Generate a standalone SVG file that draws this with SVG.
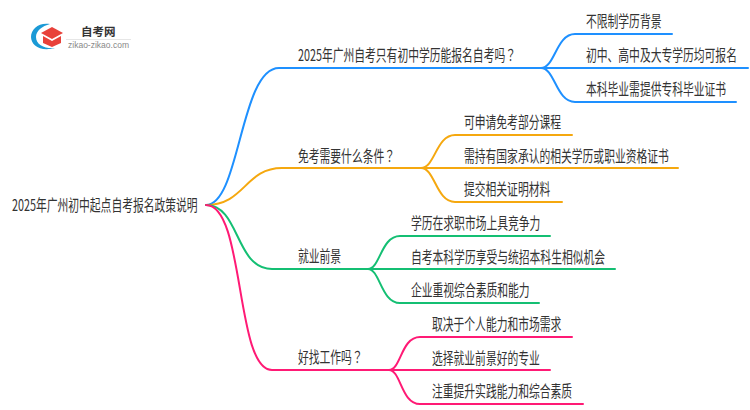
<svg xmlns="http://www.w3.org/2000/svg" width="750" height="410" viewBox="0 0 750 410">
<style>
text{font-family:"Noto Sans CJK SC","Liberation Sans",sans-serif;font-size:16px;fill:#333;}
.q{font-family:"Noto Sans CJK TC",sans-serif;}
.c{fill:none;stroke-width:2;stroke-linecap:round;}
.b{stroke:#1e90ff}.o{stroke:#f5a80f}.g{stroke:#14bf73}.p{stroke:#ff1a75}
</style>
<rect width="750" height="410" fill="#fff"/>
<g id="logo">
<path d="M50 24C39 22 31 29 31 37C31 45 40 52 55 48C45 49 36 45 36 37C36 31 42 26 50 24Z" fill="#1b9ad6"/>
<path d="M41 33L52 27L63 33L52 39Z" fill="#e8413a"/>
<path d="M43 36L52 41L61 36V43L52 47L43 43Z" fill="#e8413a"/>
<text x="81" y="36" style="font-size:11.500px;font-weight:bold">自考网</text>
<rect x="66" y="39" width="65" height="1" fill="#e6e6e6"/>
<text x="68" y="48" style="font-size:8.500px;fill:#888;font-family:'Liberation Sans',sans-serif" textLength="61" lengthAdjust="spacingAndGlyphs">zikao-zikao.com</text>
</g>
<g id="connectors">
<path class="c b" d="M206 205C240 205 240 68 279 68H541"/>
<path class="c b" d="M541 68C555 68 556 34 575 34H672"/>
<path class="c b" d="M541 68H748"/>
<path class="c b" d="M541 68C555 68 556 102 575 102H736"/>
<path class="c o" d="M206 205C245 205 245 168 282 168H421"/>
<path class="c o" d="M421 168C435 168 436 135 455 135H572"/>
<path class="c o" d="M421 168H678"/>
<path class="c o" d="M421 168C435 168 436 202 455 202H562"/>
<path class="c g" d="M206 205C240 205 235 269 272 269H368"/>
<path class="c g" d="M368 269C380 269 381 236 400 236H550"/>
<path class="c g" d="M368 269H615"/>
<path class="c g" d="M368 269C380 269 381 303 400 303H539"/>
<path class="c p" d="M206 205C245 205 235 370 272 370H389"/>
<path class="c p" d="M389 370C401 370 401 337 420 337H572"/>
<path class="c p" d="M389 370H550"/>
<path class="c p" d="M389 370C401 370 401 404 420 404H583"/>
</g>
<g id="root"><text transform="translate(12 211) scale(.675 1)">2025年广州初中起点自考报名政策说明</text></g>
<g id="n1"><text transform="translate(298 61) scale(.675 1)">2025年广州自考只有初中学历能报名自考吗<tspan class="q">？</tspan></text></g>
<g id="n11"><text transform="translate(586 27) scale(.675 1)">不限制学历背景</text></g>
<g id="n12"><text transform="translate(586 61) scale(.675 1)">初中、高中及大专学历均可报名</text></g>
<g id="n13"><text transform="translate(586 95) scale(.675 1)">本科毕业需提供专科毕业证书</text></g>
<g id="n2"><text transform="translate(298 162) scale(.675 1)">免考需要什么条件<tspan class="q">？</tspan></text></g>
<g id="n21"><text transform="translate(464 128) scale(.675 1)">可申请免考部分课程</text></g>
<g id="n22"><text transform="translate(464 162) scale(.675 1)">需持有国家承认的相关学历或职业资格证书</text></g>
<g id="n23"><text transform="translate(464 195) scale(.675 1)">提交相关证明材料</text></g>
<g id="n3"><text transform="translate(298 262) scale(.675 1)">就业前景</text></g>
<g id="n31"><text transform="translate(411 229) scale(.675 1)">学历在求职市场上具竞争力</text></g>
<g id="n32"><text transform="translate(411 263) scale(.675 1)">自考本科学历享受与统招本科生相似机会</text></g>
<g id="n33"><text transform="translate(411 296) scale(.675 1)">企业重视综合素质和能力</text></g>
<g id="n4"><text transform="translate(298 363) scale(.675 1)">好找工作吗<tspan class="q">？</tspan></text></g>
<g id="n41"><text transform="translate(432 330) scale(.675 1)">取决于个人能力和市场需求</text></g>
<g id="n42"><text transform="translate(432 364) scale(.675 1)">选择就业前景好的专业</text></g>
<g id="n43"><text transform="translate(432 397) scale(.675 1)">注重提升实践能力和综合素质</text></g>
</svg>
